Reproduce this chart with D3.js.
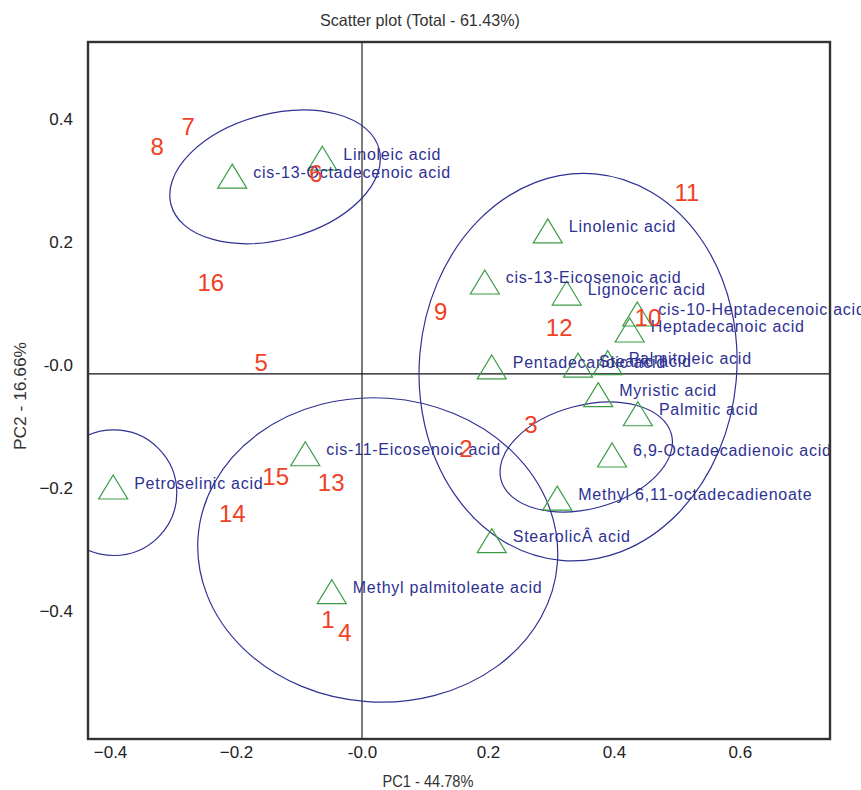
<!DOCTYPE html>
<html><head><meta charset="utf-8">
<script src="https://cdn.jsdelivr.net/npm/d3@7"></script>
<style>body{margin:0;background:#fff}</style>
</head><body><svg id="c" width="861" height="790"></svg>
<script>
// ---- data ----
const acidNames = ["Linoleic acid","cis-13-Octadecenoic acid","Linolenic acid","cis-13-Eicosenoic acid","Lignoceric acid","cis-10-Heptadecenoic acid","Heptadecanoic acid","Pentadecanoic acid","Stearic acid","Palmitoleic acid","Myristic acid","Palmitic acid","6,9-Octadecadienoic acid","Methyl 6,11-octadecadienoate","StearolicÂ acid","Petroselinic acid","cis-11-Eicosenoic acid","Methyl palmitoleate acid"];
const acidPC1 = [-0.063,-0.206,0.295,0.195,0.325,0.437,0.425,0.206,0.343,0.390,0.375,0.438,0.397,0.310,0.206,-0.395,-0.090,-0.048];
const acidPC2 = [0.347,0.318,0.229,0.146,0.128,0.094,0.068,0.008,0.011,0.015,-0.037,-0.068,-0.135,-0.205,-0.274,-0.187,-0.133,-0.357];

const sampleIds = ["1","2","3","4","5","6","7","8","9","10","11","12","13","14","15","16"];
const samplePC1 = [-0.054,0.165,0.268,-0.027,-0.160,-0.073,-0.276,-0.325,0.125,0.454,0.516,0.313,-0.049,-0.206,-0.137,-0.240];
const samplePC2 = [-0.399,-0.122,-0.083,-0.420,0.018,0.325,0.401,0.369,0.102,0.091,0.294,0.075,-0.177,-0.227,-0.167,0.148];

const ellipseCX = [-0.138, 0.343, 0.356, 0.025, -0.394];
const ellipseCY = [0.320, 0.011, -0.135, -0.286, -0.193];
const ellipseRX = [0.171, 0.252, 0.140, 0.286, 0.100];
const ellipseRY = [0.102, 0.315, 0.084, 0.247, 0.102];
const ellipseAngle = [-15, 5, -15, 4, 0];

const xTicks = [-0.4,-0.2,0,0.2,0.4,0.6];
const yTicks = [0.4,0.2,0,-0.2,-0.4];
const xDomain = [-0.435, 0.743];
const yDomain = [-0.593, 0.539];

const titleText = "Scatter plot (Total - 61.43%)";
const xLabel = "PC1 - 44.78%";
const yLabel = "PC2 - 16.66%";

// ---- drawing ----
const L = 88, R = 830, T = 42, B = 739;
const svg = d3.select("#c");
const x = d3.scaleLinear().domain(xDomain).range([L, R]);
const y = d3.scaleLinear().domain(yDomain).range([B, T]);
const fmt = d => d === 0 ? "-0.0" : d3.format(".1f")(d);
const baseFont = "'Liberation Sans', Arial, sans-serif";

svg.append("rect").attr("width", 861).attr("height", 790).attr("fill", "#fff");

svg.append("defs").append("clipPath").attr("id", "plot")
  .append("rect").attr("x", L).attr("y", T).attr("width", R - L).attr("height", B - T);

// zero lines
svg.append("line").attr("x1", x(0)).attr("x2", x(0)).attr("y1", T).attr("y2", B)
  .attr("stroke", "#111").attr("stroke-width", 1.1);
svg.append("line").attr("x1", L).attr("x2", R).attr("y1", y(0)).attr("y2", y(0))
  .attr("stroke", "#111").attr("stroke-width", 1.1);

// ellipses
const eg = svg.append("g").attr("clip-path", "url(#plot)");
eg.selectAll("ellipse").data(ellipseCX.map((d, i) => i)).join("ellipse")
  .attr("transform", i => `translate(${x(ellipseCX[i])},${y(ellipseCY[i])}) rotate(${ellipseAngle[i]})`)
  .attr("rx", i => x(ellipseRX[i]) - x(0))
  .attr("ry", i => y(0) - y(ellipseRY[i]))
  .attr("fill", "none").attr("stroke", "#2e3192").attr("stroke-width", 1.2);

// triangles
const tri = "M0,-14 L14.5,10 L-14.5,10 Z";
const pts = acidNames.map((n, i) => ({ n, px: acidPC1[i], py: acidPC2[i] }));
svg.append("g").selectAll("path").data(pts).join("path")
  .attr("d", tri)
  .attr("transform", d => `translate(${x(d.px)},${y(d.py)})`)
  .attr("fill", "none").attr("stroke", "#3c9c46").attr("stroke-width", 1.2);

// acid labels
svg.append("g").selectAll("text").data(pts).join("text")
  .attr("x", d => x(d.px) + 21)
  .attr("y", d => y(d.py) - 6)
  .attr("dominant-baseline", "central")
  .attr("font-family", baseFont).attr("font-size", 16).attr("letter-spacing", 0.75)
  .attr("fill", "#2e3192")
  .text(d => d.n);

// sample numbers
const sm = sampleIds.map((s, i) => ({ s, px: samplePC1[i], py: samplePC2[i] }));
svg.append("g").selectAll("text").data(sm).join("text")
  .attr("x", d => x(d.px)).attr("y", d => y(d.py))
  .attr("text-anchor", "middle").attr("dominant-baseline", "central")
  .attr("font-family", baseFont).attr("font-size", 24)
  .attr("fill", "#ef4124")
  .text(d => d.s);

// frame
svg.append("rect").attr("x", L).attr("y", T).attr("width", R - L).attr("height", B - T)
  .attr("fill", "none").attr("stroke", "#333").attr("stroke-width", 2.4);

// axes (labels only)
const xa = svg.append("g").attr("transform", `translate(0,${B})`)
  .call(d3.axisBottom(x).tickValues(xTicks).tickFormat(fmt).tickSize(0).tickPadding(7));
xa.select(".domain").remove();
xa.selectAll("text").attr("font-family", baseFont).attr("font-size", 17).attr("fill", "#222");

const ya = svg.append("g").attr("transform", `translate(${L},0)`)
  .call(d3.axisLeft(y).tickValues(yTicks).tickFormat(fmt).tickSize(0).tickPadding(15));
ya.select(".domain").remove();
ya.selectAll("text").attr("font-family", baseFont).attr("font-size", 17).attr("fill", "#222")
  .attr("transform", "translate(0,-9)");

// titles
svg.append("text").attr("x", 420).attr("y", 26).attr("text-anchor", "middle")
  .attr("font-family", baseFont).attr("font-size", 16.5).attr("fill", "#333")
  .attr("textLength", 200).attr("lengthAdjust", "spacingAndGlyphs").text(titleText);
svg.append("text").attr("x", 428).attr("y", 787).attr("text-anchor", "middle")
  .attr("font-family", baseFont).attr("font-size", 16.5).attr("fill", "#333")
  .attr("textLength", 91).attr("lengthAdjust", "spacingAndGlyphs").text(xLabel);
svg.append("text").attr("transform", "translate(26,396) rotate(-90)").attr("text-anchor", "middle")
  .attr("font-family", baseFont).attr("font-size", 16.5).attr("fill", "#333")
  .attr("textLength", 108).attr("lengthAdjust", "spacingAndGlyphs").text(yLabel);
</script>
</body></html>
